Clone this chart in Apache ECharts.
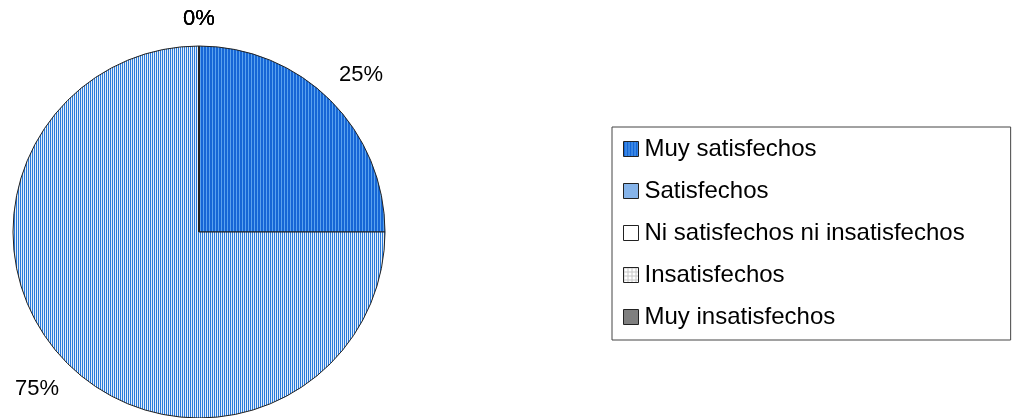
<!DOCTYPE html>
<html>
<head>
<meta charset="utf-8">
<script src="https://cdn.jsdelivr.net/npm/echarts@6/dist/echarts.min.js"></script>
<style>
  html, body { margin: 0; padding: 0; background: #fff; }
  #chart { width: 1013px; height: 418px; }
</style>
</head>
<body>
<div id="chart"></div>
<script>
// datos del grafico
const categories = ['Muy satisfechos', 'Satisfechos', 'Ni satisfechos ni insatisfechos', 'Insatisfechos', 'Muy insatisfechos']
const values = [25, 75, 0, 0, 0]

// tramas (patterns) como en el original
function stripes(w, colors) {
    const c = document.createElement('canvas')
    c.width = w; c.height = 4
    const ctx = c.getContext('2d')
    colors.forEach((col, i) => {
        ctx.fillStyle = col
        ctx.fillRect(i, 0, 1, 4)
    })
    return c
}
function grid(size, bg, line) {
    const c = document.createElement('canvas')
    c.width = size; c.height = size
    const ctx = c.getContext('2d')
    ctx.fillStyle = bg
    ctx.fillRect(0, 0, size, size)
    ctx.fillStyle = line
    ctx.fillRect(0, 0, size, 1)
    ctx.fillRect(0, 0, 1, size)
    return c
}

const fills = [
    {image: stripes(3, ['#1566d6', '#1566d6', '#5aa2ee']), repeat: 'repeat'},
    {image: stripes(2, ['#2a7ada', '#e2eefa']), repeat: 'repeat'},
    '#ffffff',
    {image: grid(4, '#ffffff', '#c8c8c8'), repeat: 'repeat'},
    {image: grid(2, '#ffffff', '#555555'), repeat: 'repeat'}
]

const data = categories.map((name, i) => {
    const item = {name, value: values[i], itemStyle: {color: fills[i]}}
    if (values[i] === 0) item.labelLine = {length: 27, length2: 0, show: false}
    return item
})

const total = values.reduce((a, b) => a + b, 0)

let myChart = echarts.init(document.getElementById('chart'))
const option = {
    animation: false,
    legend: {
        orient: 'vertical',
        left: 612,
        top: 127,
        data: categories,
        backgroundColor: '#fff',
        borderColor: '#444',
        borderWidth: 1,
        borderRadius: 0,
        padding: [10, 46, 11, 11],
        itemWidth: 15,
        itemHeight: 15,
        itemGap: 18,
        icon: 'rect',
        itemStyle: {borderColor: '#222', borderWidth: 1},
        textStyle: {
            fontFamily: 'Liberation Sans, Arial, sans-serif',
            fontSize: 24,
            lineHeight: 24,
            color: '#000',
            padding: [0, 0, 0, 1]
        }
    },
    series: [{
        type: 'pie',
        center: [199, 232],
        radius: 186,
        startAngle: 90,
        clockwise: true,
        avoidLabelOverlap: false,
        minShowLabelAngle: 0,
        data: data,
        itemStyle: {borderColor: '#222', borderWidth: 1},
        emphasis: {disabled: true},
        label: {
            show: true,
            position: 'outside',
            fontFamily: 'Liberation Sans, Arial, sans-serif',
            fontSize: 22,
            color: '#000',
            formatter: p => Math.round(p.value / total * 100) + '%'
        },
        labelLine: {show: false, length: 36, length2: 0},
        labelLayout: p => ({align: 'center', dx: values[p.dataIndex] === 0 ? 5 : 0})
    }]
}
myChart.setOption(option)
</script>
</body>
</html>
